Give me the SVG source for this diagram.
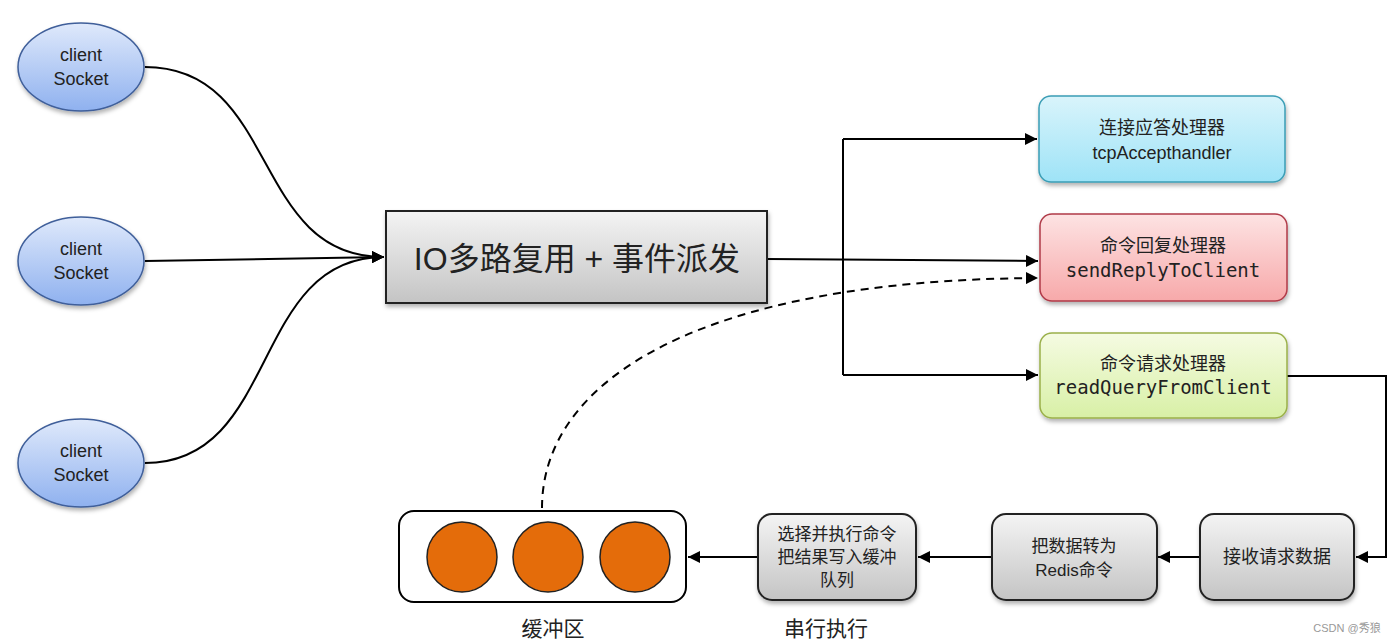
<svg xmlns="http://www.w3.org/2000/svg" width="1396" height="643" viewBox="0 0 1396 643">
<defs>
  <linearGradient id="gBlue" x1="0" y1="0" x2="0" y2="1"><stop offset="0" stop-color="#dfe9fb"/><stop offset="1" stop-color="#8fb1ef"/></linearGradient>
  <linearGradient id="gGray" x1="0" y1="0" x2="0" y2="1"><stop offset="0" stop-color="#f4f4f4"/><stop offset="1" stop-color="#c4c4c4"/></linearGradient>
  <linearGradient id="gCyan" x1="0" y1="0" x2="0" y2="1"><stop offset="0" stop-color="#d9f4fb"/><stop offset="1" stop-color="#9ee3f7"/></linearGradient>
  <linearGradient id="gRed" x1="0" y1="0" x2="0" y2="1"><stop offset="0" stop-color="#fde3e3"/><stop offset="1" stop-color="#f7a9aa"/></linearGradient>
  <linearGradient id="gGreen" x1="0" y1="0" x2="0" y2="1"><stop offset="0" stop-color="#f5fbe2"/><stop offset="1" stop-color="#d8f0a6"/></linearGradient>
  <filter id="sh" x="-10%" y="-10%" width="130%" height="140%"><feDropShadow dx="1" dy="3" stdDeviation="2" flood-color="#000" flood-opacity="0.3"/></filter>
  <marker id="ah" viewBox="0 0 10 10" refX="10" refY="5" markerWidth="12" markerHeight="12" markerUnits="userSpaceOnUse" orient="auto"><path d="M0,0 L10,5 L0,10 z" fill="#000"/></marker>
</defs>
<style>
  text{font-family:"Liberation Sans","Noto Sans","Noto Sans CJK SC",sans-serif;fill:#222;text-anchor:middle}
  .mono{font-family:"DejaVu Sans Mono","Liberation Mono","Noto Sans CJK SC",monospace}
  .ell{fill:url(#gBlue);stroke:#3f5f9a;stroke-width:1.5}
  .gbox{fill:url(#gGray);stroke:#222;stroke-width:2}
  .conn{fill:none;stroke:#000;stroke-width:2}
</style>
<rect width="1396" height="643" fill="#fff"/>

<g id="connectors">
  <path class="conn" d="M145,67 C280,67 250,257 384,257" marker-end="url(#ah)"/>
  <path class="conn" d="M145,261 L384,257" marker-end="url(#ah)"/>
  <path class="conn" d="M145,463 C280,463 250,257 384,257" marker-end="url(#ah)"/>
  <path class="conn" d="M767,259 L1038,261" marker-end="url(#ah)"/>
  <path class="conn" d="M843,139 L843,375"/>
  <path class="conn" d="M843,139 L1037,139" marker-end="url(#ah)"/>
  <path class="conn" d="M843,375 L1038,375" marker-end="url(#ah)"/>
  <path class="conn" d="M1287,376 L1386,376 L1386,557 L1356,557" marker-end="url(#ah)"/>
  <path class="conn" d="M1200,557 L1158,557" marker-end="url(#ah)"/>
  <path class="conn" d="M992,557 L918,557" marker-end="url(#ah)"/>
  <path class="conn" d="M758,557 L688,557" marker-end="url(#ah)"/>
  <path class="conn" d="M542,508 C542,380 700,280 1038,278" stroke-dasharray="8,6" marker-end="url(#ah)"/>
</g>

<g id="client1"><ellipse class="ell" cx="81" cy="67" rx="63" ry="44" filter="url(#sh)"/><text x="81" y="61" font-size="18">client</text><text x="81" y="85" font-size="18">Socket</text></g>
<g id="client2"><ellipse class="ell" cx="81" cy="261" rx="63" ry="44" filter="url(#sh)"/><text x="81" y="255" font-size="18">client</text><text x="81" y="279" font-size="18">Socket</text></g>
<g id="client3"><ellipse class="ell" cx="81" cy="463" rx="63" ry="44" filter="url(#sh)"/><text x="81" y="457" font-size="18">client</text><text x="81" y="481" font-size="18">Socket</text></g>

<g id="mux"><rect x="386" y="211" width="381" height="92" fill="url(#gGray)" stroke="#222" stroke-width="2" filter="url(#sh)"/><text x="577" y="270" font-size="32">IO多路复用 + 事件派发</text></g>

<g id="accept"><rect x="1039" y="96" width="246" height="86" rx="12" fill="url(#gCyan)" stroke="#3a9db5" stroke-width="1.5" filter="url(#sh)"/><text x="1162" y="134" font-size="18">连接应答处理器</text><text x="1162" y="159" font-size="18">tcpAccepthandler</text></g>
<g id="reply"><rect x="1040" y="214" width="247" height="87" rx="12" fill="url(#gRed)" stroke="#b03a48" stroke-width="1.5" filter="url(#sh)"/><text x="1163" y="252" font-size="18">命令回复处理器</text><text class="mono" x="1163" y="277" font-size="19">sendReplyToClient</text></g>
<g id="query"><rect x="1040" y="333" width="247" height="85" rx="12" fill="url(#gGreen)" stroke="#9ab04a" stroke-width="1.5" filter="url(#sh)"/><text x="1163" y="370" font-size="18">命令请求处理器</text><text class="mono" x="1163" y="394" font-size="19">readQueryFromClient</text></g>

<g id="receive"><rect class="gbox" x="1200" y="514" width="154" height="86" rx="14" filter="url(#sh)"/><text x="1277" y="563" font-size="18">接收请求数据</text></g>
<g id="convert"><rect class="gbox" x="992" y="514" width="165" height="86" rx="14" filter="url(#sh)"/><text x="1074" y="552" font-size="17">把数据转为</text><text x="1074" y="576" font-size="17">Redis命令</text></g>
<g id="execute"><rect class="gbox" x="758" y="514" width="158" height="86" rx="14" filter="url(#sh)"/><text x="837" y="540" font-size="17">选择并执行命令</text><text x="837" y="563" font-size="17">把结果写入缓冲</text><text x="837" y="586" font-size="17">队列</text></g>

<g id="buffer"><rect x="399" y="511" width="287" height="91" rx="15" fill="#fff" stroke="#000" stroke-width="2"/>
<circle cx="462" cy="557" r="35" fill="#e46c0a" stroke="#222" stroke-width="1.5"/>
<circle cx="548" cy="557" r="35" fill="#e46c0a" stroke="#222" stroke-width="1.5"/>
<circle cx="635" cy="557" r="35" fill="#e46c0a" stroke="#222" stroke-width="1.5"/></g>

<g id="labels">
<text x="553" y="636" font-size="21">缓冲区</text>
<text x="826" y="636" font-size="21">串行执行</text>
<text x="1347" y="632" font-size="11" style="fill:#999">CSDN @秀狼</text>
</g>
</svg>
